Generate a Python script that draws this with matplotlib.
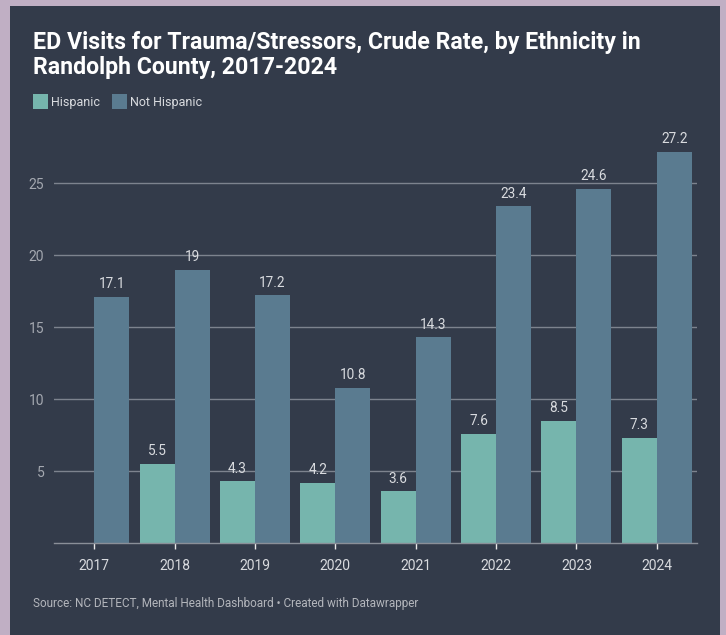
import matplotlib
matplotlib.use("Agg")
import matplotlib.pyplot as plt
import numpy as np
from matplotlib.patches import Rectangle

years = ["2017", "2018", "2019", "2020", "2021", "2022", "2023", "2024"]
hispanic = [None, 5.5, 4.3, 4.2, 3.6, 7.6, 8.5, 7.3]
not_hispanic = [17.1, 19, 17.2, 10.8, 14.3, 23.4, 24.6, 27.2]
y_ticks = [5, 10, 15, 20, 25]

title_lines = ["ED Visits for Trauma/Stressors, Crude Rate, by Ethnicity in",
               "Randolph County, 2017-2024"]
source = "Source: NC DETECT, Mental Health Dashboard \u2022 Created with Datawrapper"

BG = "#333b4a"
FRAME = "#c0afc4"
C_HISP = "#76b5ad"
C_NOT = "#5a7b90"
GRID = "#7d838e"
TXT = "#d9dbdf"

W, H = 726, 635
fig = plt.figure(figsize=(W / 100, H / 100), dpi=100)
fig.patch.set_facecolor(FRAME)
fig.patches.append(Rectangle((10 / W, 0), (720 - 10) / W, (H - 6) / H,
                             transform=fig.transFigure, facecolor=BG,
                             edgecolor="none", zorder=-5))

fam = ["Roboto", "DejaVu Sans"]


def px(xp, yp):
    return xp / W, 1 - yp / H


# headline, two lines
for line, base in zip(title_lines, [48.5, 74]):
    fig.text(*px(33, base), line, color="white", fontsize=16.7,
             fontweight="bold", family=fam, va="baseline", ha="left")

# legend
for label, color, x0 in [("Hispanic", C_HISP, 33), ("Not Hispanic", C_NOT, 112)]:
    fig.patches.append(Rectangle(px(x0, 109), 15 / W, 15 / H,
                                 transform=fig.transFigure, facecolor=color,
                                 edgecolor="none"))
    fig.text(*px(x0 + 18.5, 106), label, color=TXT, fontsize=9,
             family=fam, va="baseline", ha="left")

ax_l, ax_r, ax_b, ax_t = 54, 697, 543, 140
ax = fig.add_axes([ax_l / W, 1 - ax_b / H, (ax_r - ax_l) / W, (ax_b - ax_t) / H])
ax.set_facecolor("none")

x = np.arange(len(years))
bw = 0.435
h_vals = [v if v is not None else 0 for v in hispanic]
ax.bar(x - bw / 2, h_vals, width=bw, color=C_HISP, zorder=3)
ax.bar(x + bw / 2, not_hispanic, width=bw, color=C_NOT, zorder=3)

for xi, v in zip(x, hispanic):
    if v is not None:
        ax.annotate(f"{v:g}", (xi - bw / 2, v), xytext=(0, 4),
                    textcoords="offset points", ha="center", va="bottom",
                    color=TXT, fontsize=9.8, family=fam, zorder=4)
for xi, v in zip(x, not_hispanic):
    ax.annotate(f"{v:g}", (xi + bw / 2, v), xytext=(0, 4),
                textcoords="offset points", ha="center", va="bottom",
                color=TXT, fontsize=9.8, family=fam, zorder=4)

ax.set_xlim(-0.5, len(years) - 0.5)
ax.set_ylim(0, 28)
ax.set_yticks(y_ticks)
ax.set_yticklabels([str(t) for t in y_ticks], family=fam)
ax.set_xticks(x)
ax.set_xticklabels(years, family=fam)
ax.yaxis.grid(True, color=GRID, linewidth=1, zorder=1)
ax.set_axisbelow(True)
ax.tick_params(axis="y", length=0, pad=7, labelsize=10, labelcolor="#a4a8b0")
ax.tick_params(axis="x", length=4, width=1, color="#e8e8e8", pad=7.5,
               labelsize=10, labelcolor=TXT)
for s in ["top", "right", "left"]:
    ax.spines[s].set_visible(False)
ax.spines["bottom"].set_color("#8a8f98")
ax.spines["bottom"].set_linewidth(1)
ax.spines["bottom"].set_zorder(5)

fig.text(*px(33, 603), source, color="#b3b6bc", fontsize=8.5,
         family=fam, va="center", ha="left")

fig.savefig("out.png", dpi=100, facecolor=FRAME)
